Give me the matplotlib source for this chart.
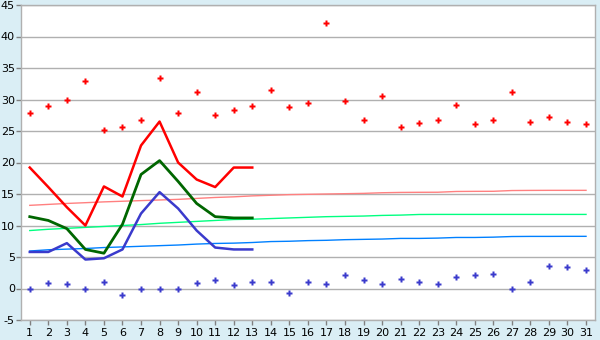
import numpy as np
import matplotlib.pyplot as plt

plt.rcParams["axes.unicode_minus"] = False
plt.rcParams["font.family"] = "DejaVu Sans"

# ---------------------------------------------------------------------------
# Data
# ---------------------------------------------------------------------------
days = list(range(1, 32))
line_days = list(range(1, 14))

red_points = [27.8, 28.9, 30.0, 32.9, 25.1, 25.6, 26.7, 33.4, 27.8, 31.2,
              27.5, 28.3, 28.9, 31.5, 28.8, 29.4, 42.1, 29.7, 26.7, 30.5,
              25.6, 26.2, 26.7, 29.1, 26.1, 26.7, 31.2, 26.4, 27.3, 26.4, 26.1]
blue_points = [0.0, 0.95, 0.64, 0.0, 1.1, -1.1, 0.0, 0.0, 0.0, 0.95,
               1.27, 0.48, 1.1, 1.1, -0.64, 1.1, 0.64, 2.07, 1.27, 0.64,
               1.43, 1.1, 0.64, 1.75, 2.07, 2.23, 0.0, 1.1, 3.5, 3.34, 3.0]

red_line = [19.2, 16.1, 12.9, 10.0, 16.2, 14.6, 22.7, 26.5, 20.0, 17.3, 16.1, 19.2, 19.2]
green_line = [11.4, 10.8, 9.5, 6.2, 5.6, 10.2, 18.1, 20.3, 17.0, 13.5, 11.4, 11.2, 11.2]
blue_line = [5.8, 5.8, 7.2, 4.6, 4.8, 6.2, 11.9, 15.3, 12.7, 9.2, 6.5, 6.2, 6.2]

pink_trend = [13.2, 13.35, 13.5, 13.62, 13.75, 13.85, 13.95, 14.05, 14.15, 14.3,
              14.45, 14.55, 14.7, 14.8, 14.9, 14.95, 15.0, 15.05, 15.1, 15.2,
              15.25, 15.27, 15.28, 15.4, 15.42, 15.43, 15.55, 15.57, 15.58, 15.58, 15.58]
lgreen_trend = [9.2, 9.4, 9.55, 9.7, 9.85, 10.0, 10.15, 10.35, 10.5, 10.65,
                10.8, 10.95, 11.0, 11.1, 11.2, 11.3, 11.4, 11.45, 11.5, 11.6,
                11.65, 11.75, 11.76, 11.76, 11.76, 11.76, 11.76, 11.76, 11.76, 11.76, 11.76]
lblue_trend = [5.95, 6.15, 6.25, 6.35, 6.5, 6.6, 6.7, 6.8, 6.9, 7.05,
               7.15, 7.2, 7.3, 7.45, 7.5, 7.6, 7.65, 7.75, 7.8, 7.85,
               7.95, 7.95, 8.0, 8.1, 8.1, 8.15, 8.25, 8.27, 8.27, 8.28, 8.28]

# ---------------------------------------------------------------------------
# Figure
# ---------------------------------------------------------------------------
BG = "#daeef5"
GRID = "#b0b0b0"

fig = plt.figure(figsize=(6, 3.4), dpi=100, facecolor=BG)
ax = fig.add_axes([20.5 / 600, 20 / 340, 574.8 / 600, 315 / 340])
ax.set_facecolor("white")

ax.plot(days, pink_trend, color="#ff8080", lw=1.0)
ax.plot(days, lgreen_trend, color="#00ff80", lw=1.0)
ax.plot(days, lblue_trend, color="#0080ff", lw=1.0)

ax.plot(line_days, red_line, color="#ff0000", lw=1.8)
ax.plot(line_days, green_line, color="#006600", lw=2.0)
ax.plot(line_days, blue_line, color="#3a3acc", lw=1.8)

ax.plot(days, red_points, ls="none", marker="P", ms=4.8, color="#ff0000", mec="none")
ax.plot(days, blue_points, ls="none", marker="P", ms=4.8, color="#3a3acc", mec="none")

ax.set_xlim(0.5, 31.5)
ax.set_ylim(-5, 45)
ax.set_xticks(days)
ax.set_yticks(np.arange(-5, 46, 5))
ax.yaxis.grid(True, color=GRID, lw=1.0)
ax.set_axisbelow(True)

for side in ["left", "right", "top", "bottom"]:
    ax.spines[side].set_color(GRID)
    ax.spines[side].set_linewidth(1.0)

ax.tick_params(axis="both", colors="#808080", labelcolor="black",
               labelsize=8, length=3.5, width=1, direction="out")
ax.tick_params(axis="y", pad=0.5)
ax.tick_params(axis="x", pad=2)

fig.savefig("out.png", dpi=100, facecolor=BG)
